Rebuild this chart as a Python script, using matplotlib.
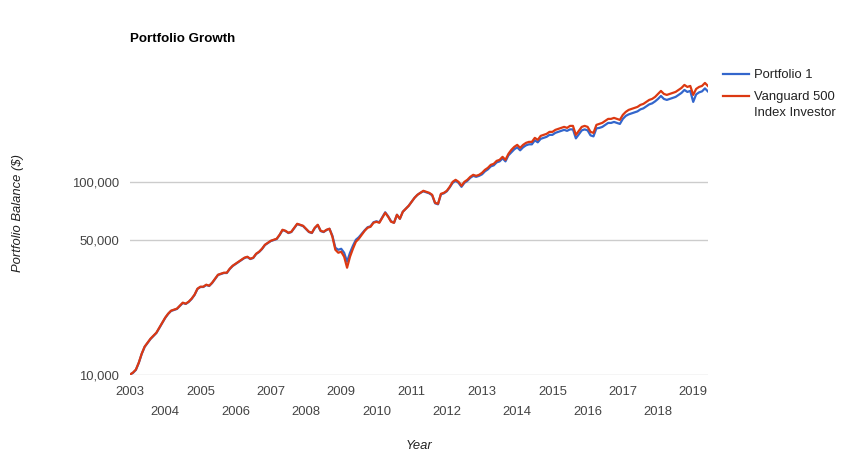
import matplotlib
matplotlib.use('Agg')
import matplotlib.pyplot as plt
import matplotlib.ticker as mticker
import numpy as np
#-------------------------------
# Data (month-end balances, Jan 2003 start .. May 2019)
start_year = 2003
vanguard = [
    10000, 10240, 10610, 11540, 12850, 13970, 14650, 15360, 15920, 16500, 17520, 18600,
    19740, 20700, 21460, 21720, 21980, 22780, 23610, 23330, 23890, 24760, 25970, 27900,
    28570, 28570, 29260, 28920, 29970, 31440, 32970, 33370, 33770, 33770, 35420, 36710,
    37600, 38500, 39440, 40390, 40870, 39910, 40390, 42360, 43380, 44960, 47160, 48300,
    49460, 50060, 50660, 53140, 56410, 55730, 54420, 55080, 57770, 60590, 59870, 59160,
    57090, 55080, 54420, 57770, 59870, 55730, 55080, 56410, 57090, 51890, 44430, 42870,
    43380, 40870, 35840, 40870, 44960, 48880, 50660, 53140, 55730, 57770, 58460, 61320,
    62050, 61320, 65090, 69090, 65870, 62050, 61320, 67460, 64320, 69920, 72470, 75100,
    78780, 82630, 85650, 87710, 89830, 88760, 87710, 85650, 77840, 76920, 86670, 87710,
    89830, 94220, 100000, 102430, 100000, 95350, 100000, 102430, 106160, 108730, 107430, 108730,
    111350, 115410, 118190, 122510, 123980, 128490, 130040, 134770, 130040, 139690, 146520, 151850,
    155530, 150050, 155530, 159280, 161190, 161190, 169070, 165090, 173150, 175240, 177340, 181620,
    181620, 186020, 188250, 190500, 192790, 190500, 195100, 195100, 175240, 183790, 192790, 195100,
    192790, 181620, 179460, 197450, 199820, 202210, 207080, 212100, 212100, 214640, 212100, 209590,
    222480, 230580, 236160, 239000, 241850, 244760, 250680, 253690, 259800, 266090, 269280, 275780,
    285840, 296230, 285840, 282450, 285840, 289260, 292740, 299820, 307050, 318250, 310730, 314450,
    282450, 303420, 310730, 314450, 325920, 314450]
portfolio1 = [
    10000, 10200, 10570, 11500, 12800, 13920, 14600, 15300, 15860, 16440, 17460, 18530,
    19670, 20630, 21380, 21640, 21900, 22700, 23520, 23250, 23800, 24670, 25880, 27800,
    28470, 28470, 29160, 28820, 29860, 31330, 32850, 33250, 33650, 33650, 35290, 36580,
    37460, 38360, 39300, 40250, 40720, 39770, 40250, 42210, 43220, 44800, 46990, 48130,
    49280, 49880, 50480, 52950, 56210, 55530, 54230, 54880, 57560, 60370, 59660, 58950,
    56890, 54880, 54230, 57560, 59660, 55530, 54880, 56210, 57090, 52510, 45500, 44410,
    44940, 42870, 38490, 42870, 46580, 50050, 51570, 53780, 56060, 58120, 58810, 61690,
    62420, 61690, 65480, 69500, 66270, 62420, 61320, 67460, 64320, 69920, 72470, 75100,
    78780, 82630, 85650, 87710, 89290, 88230, 87180, 85140, 77370, 76460, 86150, 87180,
    89290, 93650, 98800, 101200, 98800, 94210, 98800, 101200, 104890, 107420, 106140, 107420,
    109350, 113330, 116060, 120300, 121750, 126180, 127700, 132340, 127700, 137180, 142270, 147450,
    151020, 145700, 151020, 154660, 156520, 156520, 164170, 160300, 167090, 169110, 171130, 175260,
    175260, 179510, 181660, 183830, 186040, 183830, 187100, 187100, 168050, 176250, 184880, 187100,
    184880, 174170, 172100, 189350, 190430, 192710, 197350, 202130, 202130, 204550, 202130, 199740,
    212020, 219740, 223880, 226570, 229270, 232030, 237640, 240500, 246290, 252250, 255280, 261440,
    269260, 279050, 269260, 266070, 269260, 272480, 275760, 282430, 289240, 299790, 292710, 296210,
    259850, 284300, 291150, 294640, 305390, 294640]
series_names = ['Portfolio 1', 'Vanguard 500']
series_extra = 'Index Investor'     # second line of the Vanguard legend entry
series_colors = ['#3366cc', '#dc3912']
y_ticks = [10000, 50000, 100000]
x_years = list(range(2003, 2020))
#-------------------------------
plt.rcParams['font.family'] = ['Liberation Sans', 'DejaVu Sans']

months = np.arange(len(vanguard))
years = start_year + months / 12.0

fig = plt.figure(figsize=(8.49, 4.57), dpi=100)
ax = fig.add_axes([130/849, 1-375/457, 578/849, 325/457])

ax.plot(years, portfolio1, color=series_colors[0], lw=1.6, label=series_names[0], zorder=3)
ax.plot(years, vanguard, color=series_colors[1], lw=1.6, label=series_names[1], zorder=4)

ax.set_yscale('log')
ax.set_ylim(9950, 483000)
ax.set_xlim(2003, 2019.42)
ax.yaxis.set_major_locator(mticker.FixedLocator(y_ticks))
ax.yaxis.set_minor_locator(mticker.NullLocator())
ax.yaxis.set_major_formatter(mticker.FuncFormatter(lambda v, p: '{:,}'.format(int(v))))

# staggered year labels (odd years upper row, even years lower row)
ax.set_xticks(x_years)
ax.set_xticklabels([str(y) if (y - 2003) % 2 == 0 else '\n' + str(y) for y in x_years])
ax.tick_params(axis='both', length=0, labelsize=9.4, labelcolor='#444444')
ax.tick_params(axis='x', pad=8)
ax.tick_params(axis='y', pad=8)
for lbl in ax.get_xticklabels():
    lbl.set_linespacing(1.85)

ax.grid(axis='y', color='#cccccc', lw=1)
ax.grid(axis='x', visible=False)
for s in ax.spines.values():
    s.set_visible(False)

ax.set_xlabel('Year', style='italic', fontsize=9.4, color='#222222')
ax.xaxis.set_label_coords(0.5, -(442 - 375 + 4) / 325)
ax.xaxis.label.set_va('center')
ax.set_ylabel('Portfolio Balance ($)', style='italic', fontsize=9.4, color='#222222')
ax.yaxis.set_label_coords((18 - 130) / 578, 0.5)
ax.yaxis.label.set_va('center')
fig.text(130/849, 1-42/457, 'Portfolio Growth', fontsize=9.6, fontweight='bold', color='black', va='baseline')

leg = ax.legend(loc='upper left', bbox_to_anchor=(718/849, 1-64/457), bbox_transform=fig.transFigure,
                frameon=False, fontsize=9.4, handlelength=2.0, handletextpad=0.35,
                labelspacing=0.75, borderaxespad=0)
for t in leg.get_texts():
    t.set_color('#222222')

# second line of the Vanguard label, placed right under its first line
fig.canvas.draw()
bb = leg.get_texts()[1].get_window_extent()
fig.text(bb.x0 / fig.bbox.width, (bb.y0 - 16) / fig.bbox.height + bb.height / fig.bbox.height / 2,
         series_extra, fontsize=9.4, color='#222222', va='center', ha='left')

fig.savefig('out.png', dpi=100)
